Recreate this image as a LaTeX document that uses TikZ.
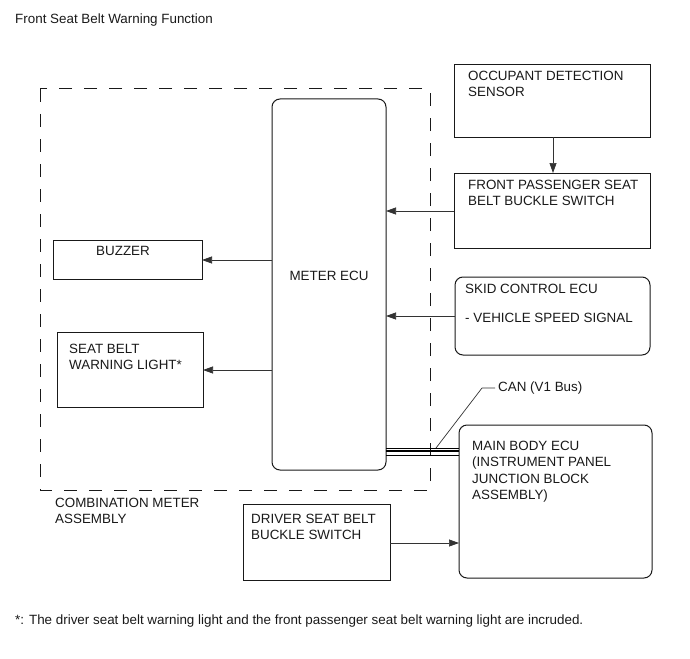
\documentclass[tikz,border=0pt]{standalone}
\usepackage{fontspec}
\setmainfont{Liberation Sans}
\usetikzlibrary{arrows.meta}
\begin{document}
\begin{tikzpicture}[x=1pt,y=-1pt,
  every node/.style={font=\fontsize{13.4}{16.3}\selectfont, text=black!90},
  box/.style={draw=black!90, line width=1pt, anchor=north west, inner sep=0pt, outer sep=0pt},
  rbox/.style={box, rounded corners=8pt},
  lbl/.style={anchor=north west, inner sep=0pt, align=left},
  arr/.style={draw=black!80, line width=0.7pt, -{Triangle[length=10pt,width=7pt]}},
  ln/.style={draw=black!80, line width=0.7pt}]
\useasboundingbox (0,0) rectangle (690,658);
% title
\node[lbl] (title) at (15,14) {Front Seat Belt Warning Function};
% dashed combination meter boundary
\draw[black!90, line width=1pt, dash pattern=on 13pt off 12pt] (40,89) rectangle (430,490);
\node[lbl] (comb) at (55,498) {COMBINATION METER\\ASSEMBLY};
% meter ECU
\node[rbox, minimum width=114pt, minimum height=371pt] (meter) at (272,99) {};
\node (meterT) at (329,276) {METER ECU};
% buzzer
\node[box, minimum width=149pt, minimum height=39pt] (buzz) at (53,240) {};
\node[lbl] (buzzT) at (96,246) {BUZZER};
% seat belt warning light
\node[box, minimum width=146pt, minimum height=75pt] (light) at (57,332) {};
\node[lbl] (lightT) at (69,344) {SEAT BELT\\WARNING LIGHT*};
% occupant detection sensor
\node[box, minimum width=196pt, minimum height=72pt] (occ) at (454,65) {};
\node[lbl] (occT) at (468,71) {OCCUPANT DETECTION\\SENSOR};
% front passenger seat belt buckle switch
\node[box, minimum width=196pt, minimum height=75pt] (fp) at (454,173) {};
\node[lbl] (fpT) at (468,180) {FRONT PASSENGER SEAT\\BELT BUCKLE SWITCH};
% skid control ECU
\node[rbox, minimum width=195pt, minimum height=78pt] (skid) at (455,277) {};
\node[lbl] (skidT) at (465,284) {SKID CONTROL ECU\\[13pt]- VEHICLE SPEED SIGNAL};
% main body ECU
\node[rbox, minimum width=193pt, minimum height=153pt] (mb) at (459,425) {};
\node[lbl] (mbT) at (472,441) {MAIN BODY ECU\\(INSTRUMENT PANEL\\JUNCTION BLOCK\\ASSEMBLY)};
% driver seat belt buckle switch
\node[box, minimum width=147pt, minimum height=76pt] (drv) at (243,504) {};
\node[lbl] (drvT) at (251,514) {DRIVER SEAT BELT\\BUCKLE SWITCH};
% connectors
\draw[arr] (occ.south -| 553,0) -- (fp.north -| 553,0);
\draw[arr] (fp.west |- 0,211) -- (meter.east |- 0,211);
\draw[arr] (skid.west |- 0,316) -- (meter.east |- 0,316);
\draw[arr] (meter.west |- 0,260) -- (buzz.east |- 0,260);
\draw[arr] (meter.west |- 0,370) -- (light.east |- 0,370);
\draw[arr] (drv.east |- 0,543) -- (mb.west |- 0,543);
% CAN bus
\draw[black, line width=1.4pt] (meter.east |- 0,448.2) -- (mb.west |- 0,448.2);
\draw[black, line width=1.4pt] (meter.east |- 0,450.8) -- (mb.west |- 0,450.8);
\draw[black, line width=1.1pt] (meter.east |- 0,455.2) -- (mb.west |- 0,455.2);
\coordinate (canA) at (436,448);
\coordinate (canB) at (482,388);
\coordinate (canC) at (495,388);
\draw[ln] (canA) -- (canB) -- (canC);
\node[anchor=west, inner sep=0pt] (canT) at (498,388) {CAN (V1 Bus)};
% footnote
\node[lbl] (foot) at (15,615) {*: The driver seat belt warning light and the front passenger seat belt warning light are incruded.};
\end{tikzpicture}
\end{document}
